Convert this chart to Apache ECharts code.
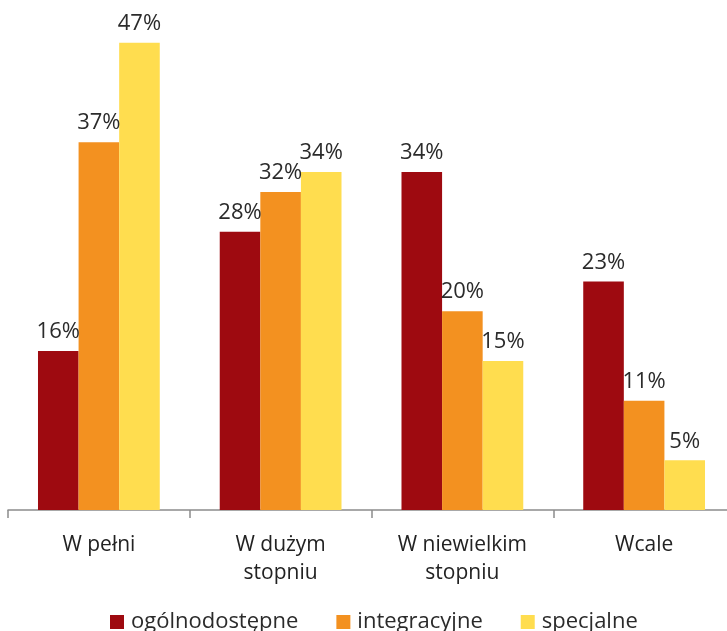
<!DOCTYPE html>
<html>
<head>
<meta charset="utf-8">
<script src="https://cdn.jsdelivr.net/npm/echarts@6/dist/echarts.min.js"></script>
<style>
  html, body { margin: 0; padding: 0; background: #fff; }
  #chart { width: 727px; height: 631px; }
</style>
</head>
<body>
<div id="chart"></div>
<script>
// Categories and series values (percent)
const categories = ['W pełni', 'W dużym\nstopniu', 'W niewielkim\nstopniu', 'Wcale'];
const seriesNames = ['ogólnodostępne', 'integracyjne', 'specjalne'];
const ogolnodostepne = [16, 28, 34, 23];
const integracyjne = [37, 32, 20, 11];
const specjalne = [47, 34, 15, 5];
const colors = ['#9E0A10', '#F39120', '#FFDD4F'];

const fontFamily = '"Open Sans", "Noto Sans", sans-serif';
const chart = echarts.init(document.getElementById('chart'));

const mkSeries = (name, data, color) => ({
  name: name,
  type: 'bar',
  data: data,
  barGap: '0%',
  barCategoryGap: '33%',
  itemStyle: { color: color },
  label: {
    show: true,
    position: 'top',
    distance: 8,
    formatter: '{c}%',
    color: '#2b2b2b',
    fontSize: 22,
    fontFamily: fontFamily
  }
});

chart.setOption({
  animation: false,
  grid: {
    left: 8, width: 727, top: 13, height: 497,
    containLabel: false, outerBoundsMode: 'none'
  },
  legend: {
    top: 606,
    left: 105,
    padding: 5,
    itemWidth: 14,
    itemHeight: 14,
    itemGap: 38,
    icon: 'rect',
    textStyle: { fontSize: 22, color: '#2b2b2b', fontFamily: fontFamily, padding: [0, 0, 0, 2] },
    data: seriesNames
  },
  xAxis: {
    type: 'category',
    data: categories,
    axisLine: { lineStyle: { color: '#8c8c8c', width: 1.5 } },
    axisTick: { show: true, length: 8, lineStyle: { color: '#8c8c8c', width: 1.5 } },
    axisLabel: {
      margin: 21,
      fontSize: 21,
      lineHeight: 28,
      color: '#222',
      fontFamily: fontFamily,
      interval: 0
    }
  },
  yAxis: {
    type: 'value',
    min: 0,
    max: 50,
    show: false,
    splitLine: { show: false }
  },
  series: [
    mkSeries(seriesNames[0], ogolnodostepne, colors[0]),
    mkSeries(seriesNames[1], integracyjne, colors[1]),
    mkSeries(seriesNames[2], specjalne, colors[2])
  ]
});
</script>
</body>
</html>
